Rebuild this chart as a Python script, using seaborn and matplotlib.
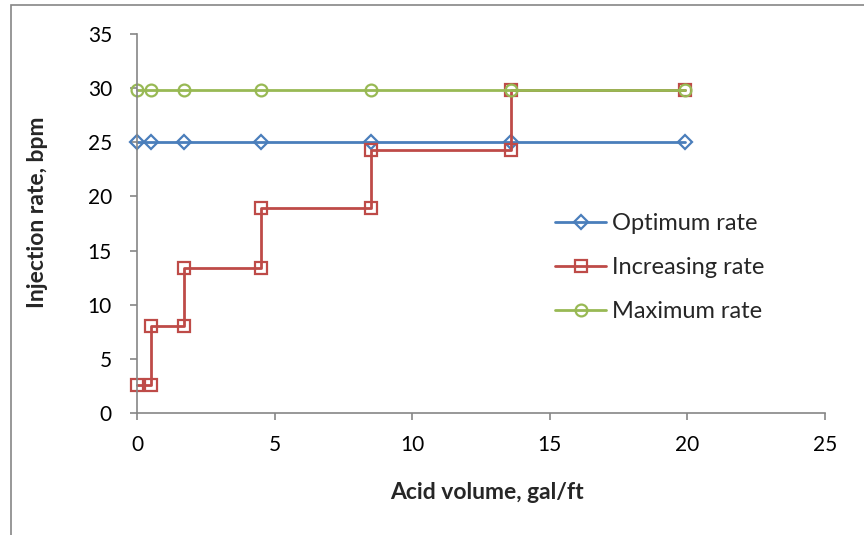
import matplotlib
matplotlib.use("Agg")
import matplotlib.pyplot as plt
import seaborn as sns
import pandas as pd
from matplotlib.patches import Rectangle

sns.set_theme(style="white")
plt.rcParams['font.family'] = ['Lato', 'DejaVu Sans']

# Data
opt_x = [0, 0.5, 1.7, 4.5, 8.5, 13.6, 19.9]
opt_y = [25, 25, 25, 25, 25, 25, 25]
inc_x = [0, 0.5, 0.5, 1.7, 1.7, 4.5, 4.5, 8.5, 8.5, 13.6, 13.6, 19.9]
inc_y = [2.6, 2.6, 8.0, 8.0, 13.4, 13.4, 18.9, 18.9, 24.3, 24.3, 29.8, 29.8]
max_x = [0, 0.5, 1.7, 4.5, 8.5, 13.6, 19.9]
max_y = [29.8, 29.8, 29.8, 29.8, 29.8, 29.8, 29.8]
x_ticks = [0, 5, 10, 15, 20, 25]
y_ticks = [0, 5, 10, 15, 20, 25, 30, 35]

blue = "#4A7EBB"
red = "#BE4B48"
green = "#98B954"
gray = "#868686"

fig = plt.figure(figsize=(8.64, 5.35), dpi=100)
fig.patches.append(Rectangle((11/864, -0.1), 2.0, 1 - 5/535 + 0.1,
                             transform=fig.transFigure, fill=False,
                             edgecolor=gray, linewidth=1.2, zorder=0))
ax = fig.add_axes([137/864, 1 - 413/535, (825 - 137)/864, (413 - 34)/535])

series = [
    ("Optimum rate", opt_x, opt_y, blue, "D", 7.5),
    ("Increasing rate", inc_x, inc_y, red, "s", 8),
    ("Maximum rate", max_x, max_y, green, "o", 8.5),
]
for name, xs, ys, col, mk, ms in series:
    df = pd.DataFrame({"x": xs, "y": ys})
    sns.lineplot(data=df, x="x", y="y", sort=False, ax=ax, color=col,
                 linewidth=2.0, marker=mk, markersize=ms,
                 markerfacecolor="none", markeredgecolor=col,
                 markeredgewidth=1.6, label=name, estimator=None)

ax.set_xlim(0, 25)
ax.set_ylim(0, 35)
ax.set_xticks(x_ticks)
ax.set_yticks(y_ticks)
ax.set_xticklabels([str(t) for t in x_ticks], fontsize=15)
ax.set_yticklabels([str(t) for t in y_ticks], fontsize=15)
for s in ["top", "right"]:
    ax.spines[s].set_visible(False)
for s in ["left", "bottom"]:
    ax.spines[s].set_color(gray)
    ax.spines[s].set_linewidth(1.2)
ax.tick_params(axis="both", direction="out", length=5, width=1.2, color=gray,
               labelcolor="black", bottom=True, left=True)
ax.tick_params(axis="x", pad=11)
ax.tick_params(axis="y", pad=13)
ax.set_xlabel("Acid volume, gal/ft", fontsize=16.5, fontweight="bold")
ax.set_ylabel("Injection rate, bpm", fontsize=16.5, fontweight="bold")
ax.xaxis.set_label_coords(0.509, -0.183)
ax.yaxis.set_label_coords(-0.13, 0.53)
for l in ax.lines:
    l.set_clip_on(False)

leg = ax.legend(loc="upper left", bbox_to_anchor=(555/864, 1 - 213/535),
                bbox_transform=fig.transFigure, frameon=False, fontsize=17,
                handlelength=2.17, handletextpad=0.235, labelspacing=0.98,
                borderpad=0, borderaxespad=0)

fig.savefig("out.png", dpi=100)
